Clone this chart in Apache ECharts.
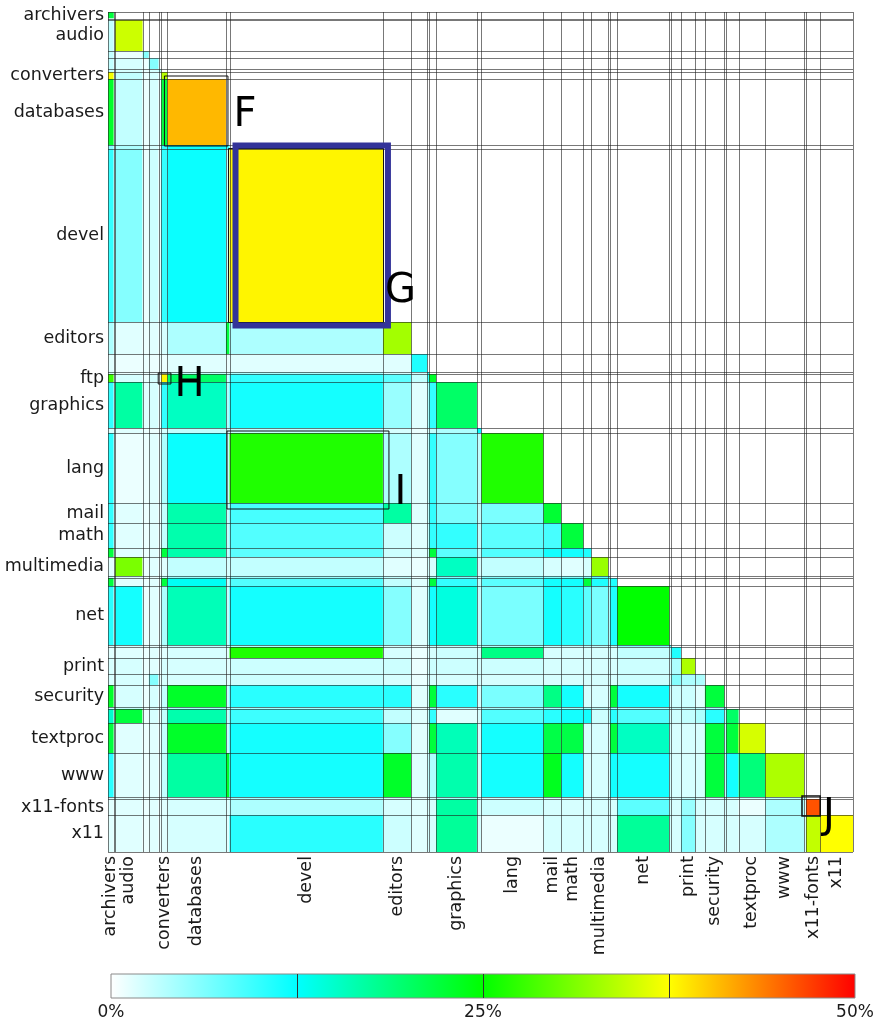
<!DOCTYPE html>
<html>
<head>
<meta charset="utf-8">
<script src="https://cdn.jsdelivr.net/npm/echarts@6/dist/echarts.min.js"></script>
<style>
  html, body { margin: 0; padding: 0; background: #ffffff; }
  #chart { width: 881px; height: 1023px; }
</style>
</head>
<body>
<div id="chart"></div>
<script>
// Categories in matrix order; empty names are small categories drawn without a label.
const catNames = ['archivers', '', 'audio', '', '', '', 'converters', 'databases', '', 'devel',
  'editors', '', '', 'ftp', 'graphics', '', 'lang', 'mail', 'math', '', 'multimedia', '', '',
  'net', '', '', 'print', '', 'security', '', '', 'textproc', 'www', '', 'x11-fonts', 'x11'];

// Categories named only on the row axis (too narrow for a column label).
const rowOnlyNames = ['ftp'];

// Number of packages in each category (sets the width/height of its band).
const catSizes = [65, 15, 310, 70, 110, 30, 70, 660, 40, 1730,
  320, 180, 20, 80, 460, 50, 700, 200, 250, 90, 190, 20, 80,
  590, 20, 110, 160, 110, 220, 20, 140, 300, 440, 20, 160, 370];

// Share of dependencies (%) between category pairs, lower triangle, one row per category.
const shareByRow = [
  [22],
  [2, 1],
  [3, 1, 35],
  [3, 1, 1, 6],
  [3, 1, 2, 1, 6],
  [3, 1, 2, 1, 2, 4],
  [37, 1, 3, 1, 2, 1, 34],
  [23, 1, 3, 1, 2, 1, 22, 41],
  [6, 1, 4, 1, 2, 1, 10, 12, 10],
  [10, 1, 6, 1, 2.5, 1, 10, 12, 3, 38],
  [4, 1, 1.5, 1, 1.5, 1, 2, 4, 22, 4, 33],
  [1.5, 1, 1, 1, 1, 1, 1, 1.5, 1, 1.5, 1.5, 11],
  [2, 1, 1, 1, 1, 1, 2, 3, 2, 4, 2, 2, 10],
  [28, 1, 2, 1, 2, 1, 38, 20, 3, 10, 8, 3, 10, 23],
  [10, 1, 17, 1.5, 2, 1, 10, 15.5, 4, 11.5, 5, 1.5, 4, 10, 20],
  [2, 1, 1.5, 1, 1, 1, 2, 3, 2, 3, 2, 1, 2, 3, 4, 12.5],
  [10.5, 1, 1, 1, 1.5, 1, 4, 12, 3, 26.5, 4, 1.5, 3, 10, 6, 3, 26.5],
  [10, 1, 1.5, 1, 1.5, 1, 3, 16.5, 3, 9, 17, 1.5, 3, 10, 6.5, 3, 6.5, 22.5],
  [10, 1, 1.5, 1, 1.5, 1, 3, 16.5, 3, 8.5, 2.5, 1.5, 3, 10, 10, 3, 8, 9, 22],
  [22, 1, 1.5, 1, 1.5, 1, 22, 16.5, 3, 8, 2.5, 1.5, 3, 22, 8, 3, 8.5, 11.5, 11.5, 11],
  [1.5, 1, 31, 1, 1.5, 1, 1.5, 3, 2, 3, 1.5, 1, 2, 2, 15.5, 2, 3, 2, 1.5, 2, 32.5],
  [3, 1, 2, 1, 1, 1, 3, 5, 2, 5, 3, 1, 2, 4, 6, 2, 6, 6, 6, 6, 8, 8],
  [22, 1, 1.5, 1, 1.5, 1, 22, 13, 3, 8.5, 3, 1.5, 3, 22, 10, 3, 8, 11.5, 11.5, 22, 11, 4, 11],
  [10.5, 1, 11.5, 1, 1.5, 1, 4, 16, 3, 11.5, 6, 1.5, 4, 11.5, 14, 3, 6.5, 11.5, 10.5, 8, 6.5, 4, 11, 25],
  [2, 1, 2, 1, 1, 1, 2, 3, 2, 4, 2, 1, 2, 3, 3, 2, 4, 3, 3, 3, 3, 2, 3, 6, 8],
  [1.5, 1, 1.5, 1, 1.5, 1, 1.5, 2, 1.5, 26.5, 2, 1, 2, 2, 2.5, 2, 18.5, 2, 2, 2, 2, 2, 2, 3, 4, 11],
  [2, 1, 2, 1, 1.5, 1, 2, 2, 1.5, 2.5, 2.5, 1, 2, 2.5, 2.5, 2, 2.5, 2, 2, 2, 2, 2, 2, 2.5, 2, 4, 33.5],
  [2, 1, 2, 1, 6, 1, 2, 2, 1.5, 2.5, 2, 1, 2, 2, 2, 2, 2, 2, 2, 2, 2, 2, 2, 2.5, 2, 6, 4, 4],
  [23, 1, 2, 1, 2, 1, 3, 23, 3, 10.5, 10.5, 1.5, 3, 22, 10.5, 2, 6.5, 18.5, 11.5, 2, 2, 2, 22, 11.5, 2, 2.5, 2.5, 1.5, 22],
  [3, 1, 3, 1, 2, 1, 3, 4, 2, 4, 3, 1, 2, 4, 3, 2, 4, 4, 4, 4, 3, 2, 4, 4, 2, 3, 3, 3, 4, 6],
  [15, 1, 22, 1, 2, 1, 3, 16.5, 3, 9.5, 3, 1.5, 3, 10, 1.5, 2, 8.5, 10.5, 11.5, 11.5, 2.5, 3, 10.5, 8.5, 2, 2.5, 3, 4, 10.5, 3, 20],
  [22, 1, 1.5, 1, 1.5, 1, 3, 23, 3, 11.5, 6, 1.5, 3, 22, 16, 2, 11.5, 21.5, 21.5, 2, 2, 2, 22, 15.5, 2, 2, 2, 2, 22, 3, 22, 35.5],
  [10.5, 1, 1.5, 1, 1.5, 1, 3, 17, 23, 11.5, 23, 1.5, 3, 4, 16.5, 2, 11.5, 23.5, 11.5, 2, 2, 2, 11.5, 11.5, 2, 2, 2, 2, 22, 3, 11.5, 19, 33.5],
  [2, 1, 1.5, 1, 1.5, 1, 2, 2, 2, 4, 2, 1, 2, 2, 4, 2, 2, 2, 2, 2, 2, 2, 2, 4, 2, 2, 3, 2, 2, 2, 2, 2, 3, 4],
  [1.5, 1, 1.5, 1, 1.5, 1, 1.5, 2, 1.5, 4, 2, 1.5, 2, 2, 17, 2, 2.5, 2, 2, 2, 2, 2, 2, 8, 2, 2, 5, 2, 2, 2, 2, 1, 4, 2, 46],
  [1.5, 1, 1.5, 1, 1.5, 1, 1.5, 2, 1.5, 10.5, 2.5, 1.5, 2, 2, 17.5, 2, 1, 2, 2, 2, 2, 2, 2, 17.5, 2, 2, 6, 2, 2, 2, 2, 2, 4, 2, 34.5, 37.5]
];

// Colour scale (percent) and its labelled ticks.
const scaleStops = [0, 12.5, 25, 37.5, 50];
const scaleColors = ['#ffffff', '#00ffff', '#00ff00', '#ffff00', '#ff0000'];
const scaleTicks = [0, 25, 50];

// Highlighted blocks: tag, row category, column category.
const markTags = ['F', 'G', 'H', 'I', 'J'];
const markRows = ['databases', 'devel', 'ftp', 'lang', 'x11-fonts'];
const markCols = ['databases', 'devel', 'converters', 'devel', 'x11-fonts'];

// ---- derived layout ----
const edges = [0];
catSizes.forEach(s => edges.push(edges[edges.length - 1] + s));
const total = edges[edges.length - 1];
const idx = name => catNames.indexOf(name);

const cellData = [];
shareByRow.forEach((row, i) => {
  row.forEach((v, j) => {
    cellData.push([edges[j], edges[j + 1], edges[i], edges[i + 1], v]);
  });
});

const labelData = [];
catNames.forEach((n, i) => { if (n) labelData.push([(edges[i] + edges[i + 1]) / 2, i]); });

const markData = markTags.map((t, k) => [idx(markCols[k]), idx(markRows[k]), k]);

const FONT = '"DejaVu Sans", "Liberation Sans", sans-serif';
const TEXT = '#1a1a1a';
const crisp = v => Math.round(v) + 0.5;

// Box padding [left, top, right, bottom] and label offset from box's bottom-right corner.
const markStyle = {
  F: { pad: [3, 3, 2, 1], stroke: '#111111', width: 1, label: [5, -30], size: 40 },
  G: { pad: [-6, 3.5, 5, 3.5], stroke: '#333399', width: 6, label: [-6, -34], size: 40, inner: true },
  H: { pad: [3, 1, 3.5, 2], stroke: '#111111', width: 1, label: [3, 2], size: 40 },
  I: { pad: [2.5, 2, 6, 6], stroke: '#111111', width: 1, label: [5, -15], size: 40 },
  J: { pad: [4, 3, 0, 1], stroke: '#111111', width: 1.5, label: [2, 1], size: 40 }
};

const chart = echarts.init(document.getElementById('chart'), null, { renderer: 'canvas' });

const option = {
  animation: false,
  backgroundColor: '#ffffff',
  grid: [
    { left: 108, top: 12, width: 745, height: 840 },
    { left: 111, top: 974, width: 744, height: 24 }
  ],
  xAxis: [
    { type: 'value', gridIndex: 0, min: 0, max: total, show: false },
    {
      type: 'value', gridIndex: 1, min: 0, max: 50, interval: 25,
      axisLine: { show: false }, axisTick: { show: false }, splitLine: { show: false },
      axisLabel: {
        formatter: v => (scaleTicks.indexOf(v) >= 0 ? v + '%' : ''),
        fontSize: 17, fontFamily: FONT, color: TEXT, margin: 6,
        showMinLabel: true, showMaxLabel: true
      }
    }
  ],
  yAxis: [
    { type: 'value', gridIndex: 0, min: 0, max: total, inverse: true, show: false },
    { type: 'value', gridIndex: 1, min: 0, max: 1, show: false }
  ],
  visualMap: {
    type: 'continuous', show: false, min: scaleStops[0], max: scaleStops[scaleStops.length - 1],
    dimension: 4, seriesIndex: 0, inRange: { color: scaleColors }
  },
  series: [
    {
      // matrix cells
      type: 'custom', name: 'share', xAxisIndex: 0, yAxisIndex: 0, z: 1,
      data: cellData, encode: { x: [0, 1], y: [2, 3] },
      renderItem(params, api) {
        const a = api.coord([api.value(0), api.value(2)]);
        const b = api.coord([api.value(1), api.value(3)]);
        return {
          type: 'rect',
          shape: { x: a[0], y: a[1], width: b[0] - a[0], height: b[1] - a[1] },
          style: { fill: api.visual('color'), stroke: null }
        };
      }
    },
    {
      // category boundary lines across the whole matrix
      type: 'custom', name: 'bounds', xAxisIndex: 0, yAxisIndex: 0, z: 2,
      data: edges.map(e => [e]), encode: { x: 0, y: 0 }, silent: true,
      renderItem(params, api) {
        const e = api.value(0);
        const v0 = api.coord([e, 0]), v1 = api.coord([e, total]);
        const h0 = api.coord([0, e]), h1 = api.coord([total, e]);
        const st = { stroke: 'rgba(30,30,30,0.6)', lineWidth: 1 };
        return {
          type: 'group',
          children: [
            { type: 'line', shape: { x1: crisp(v0[0]), y1: v0[1], x2: crisp(v1[0]), y2: v1[1] }, style: st },
            { type: 'line', shape: { x1: h0[0], y1: crisp(h0[1]), x2: h1[0], y2: crisp(h1[1]) }, style: st }
          ]
        };
      }
    },
    {
      // category names on both axes
      type: 'custom', name: 'names', xAxisIndex: 0, yAxisIndex: 0, z: 3,
      data: labelData, encode: { x: 0, y: 0 }, silent: true,
      renderItem(params, api) {
        const mid = api.value(0);
        const name = catNames[api.value(1)];
        const py = api.coord([0, mid]);
        const px = api.coord([mid, total]);
        const base = { text: name, fontSize: 17.5, fontFamily: FONT, fill: TEXT };
        const children = [{
          type: 'text', x: py[0] - 4, y: py[1],
          style: Object.assign({}, base, { align: 'right', verticalAlign: 'middle', textAlign: 'right', textVerticalAlign: 'middle' })
        }];
        if (rowOnlyNames.indexOf(name) < 0) {
          children.push({
            type: 'text', x: px[0], y: px[1] + 4, rotation: Math.PI / 2,
            style: Object.assign({}, base, { align: 'right', verticalAlign: 'middle', textAlign: 'right', textVerticalAlign: 'middle' })
          });
        }
        return { type: 'group', children };
      }
    },
    {
      // highlighted blocks with their letters
      type: 'custom', name: 'marks', xAxisIndex: 0, yAxisIndex: 0, z: 4,
      data: markData, encode: { x: 0, y: 1 }, silent: true,
      renderItem(params, api) {
        const col = api.value(0), row = api.value(1), k = api.value(2);
        const tag = markTags[k];
        const st = markStyle[tag];
        const a = api.coord([edges[col], edges[row]]);
        const b = api.coord([edges[col + 1], edges[row + 1]]);
        const x0 = a[0] - st.pad[0], y0 = a[1] - st.pad[1];
        const x1 = b[0] + st.pad[2], y1 = b[1] + st.pad[3];
        const children = [];
        if (st.inner) {
          children.push({
            type: 'rect',
            shape: { x: crisp(a[0] - 2), y: crisp(a[1] - 1), width: Math.round(b[0] - a[0] + 2), height: Math.round(b[1] - a[1] + 1) },
            style: { fill: null, stroke: '#111111', lineWidth: 1 }
          });
        }
        children.push({
          type: 'rect',
          shape: { x: x0, y: y0, width: x1 - x0, height: y1 - y0 },
          style: { fill: null, stroke: st.stroke, lineWidth: st.width }
        });
        children.push({
          type: 'text', x: x1 + st.width / 2 + st.label[0], y: y1 + st.label[1],
          style: {
            text: tag, fontSize: st.size, fontFamily: FONT, fill: '#000000',
            align: 'left', verticalAlign: 'middle', textAlign: 'left', textVerticalAlign: 'middle'
          }
        });
        return { type: 'group', children };
      }
    },
    {
      // colour bar
      type: 'custom', name: 'scale', xAxisIndex: 1, yAxisIndex: 1, z: 2,
      data: [[scaleStops[0], scaleStops[scaleStops.length - 1]]], encode: { x: [0, 1] }, silent: true,
      renderItem(params, api) {
        const lo = api.value(0), hi = api.value(1);
        const a = api.coord([lo, 1]), b = api.coord([hi, 0]);
        const stops = scaleStops.map((s, i) => ({ offset: (s - lo) / (hi - lo), color: scaleColors[i] }));
        const children = [{
          type: 'rect',
          shape: { x: a[0], y: a[1], width: b[0] - a[0], height: b[1] - a[1] },
          style: {
            fill: { type: 'linear', x: 0, y: 0, x2: 1, y2: 0, colorStops: stops },
            stroke: '#8a8a8a', lineWidth: 1
          }
        }];
        scaleStops.slice(1, -1).forEach(s => {
          const p = api.coord([s, 0]), q = api.coord([s, 1]);
          children.push({
            type: 'line',
            shape: { x1: crisp(p[0]), y1: p[1], x2: crisp(q[0]), y2: q[1] },
            style: { stroke: '#333333', lineWidth: 1 }
          });
        });
        return { type: 'group', children };
      }
    }
  ]
};

chart.setOption(option);
</script>
</body>
</html>
